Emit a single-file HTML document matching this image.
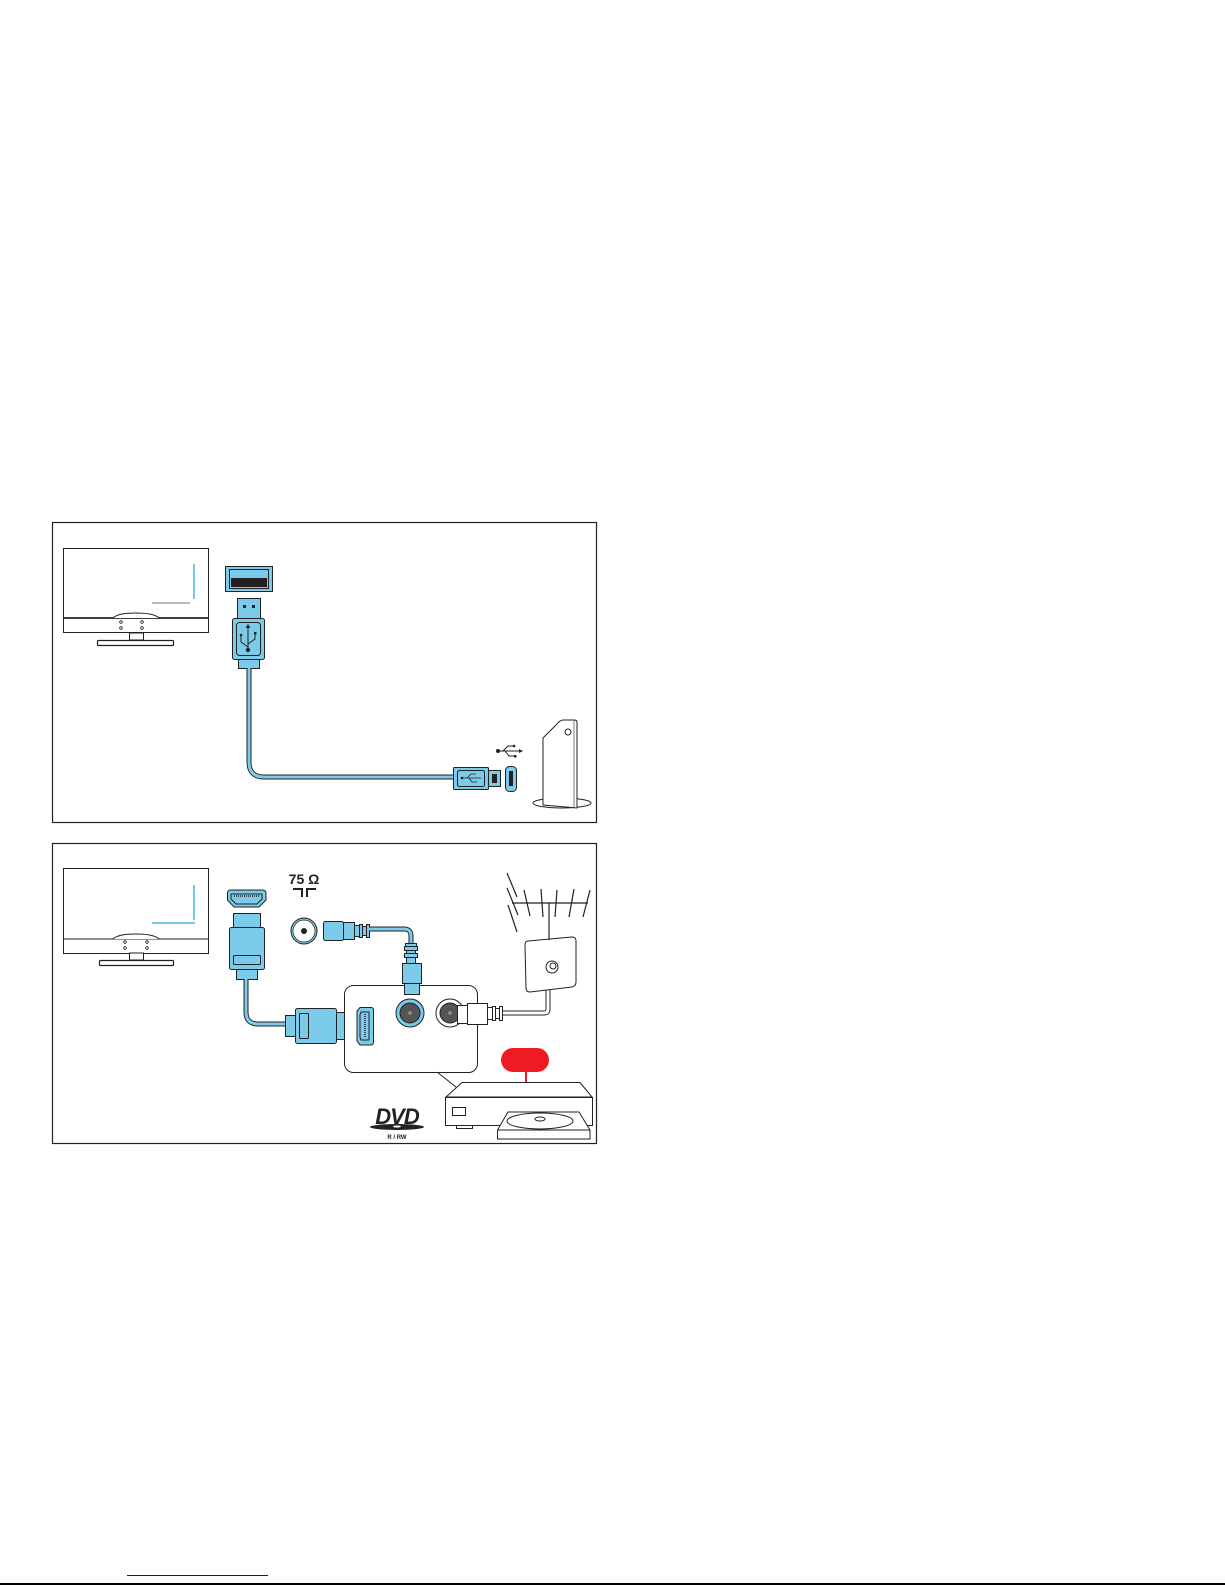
<!DOCTYPE html>
<html><head><meta charset="utf-8"><style>
html,body{margin:0;padding:0;background:#fff;}
svg{display:block;}
</style></head><body>
<svg width="1225" height="1585" viewBox="0 0 1225 1585" xmlns="http://www.w3.org/2000/svg" font-family="Liberation Sans, sans-serif">
<!-- ===== TOP PANEL ===== -->
<rect x="52.5" y="522.5" width="544" height="300" fill="#fff" stroke="#222" stroke-width="1.2"/>
<!-- TV -->
<rect x="63.5" y="548.5" width="145" height="84" fill="#fff" stroke="#222" stroke-width="1"/>
<line x1="63" y1="618" x2="209" y2="618" stroke="#222" stroke-width="1.8"/>
<path d="M113 618 Q118 613 136 613 Q154 613 159 618" fill="#fff" stroke="#222" stroke-width="1"/>
<g fill="#fff" stroke="#222" stroke-width="0.8"><circle cx="121" cy="622" r="1.3"/><circle cx="142" cy="622" r="1.3"/><circle cx="121" cy="628" r="1.3"/><circle cx="142" cy="628" r="1.3"/></g>
<rect x="129.5" y="633" width="14" height="7" fill="#fff" stroke="#222"/>
<rect x="97.5" y="640.5" width="76" height="5" rx="1" fill="#fff" stroke="#222" stroke-width="1.2"/>
<line x1="194" y1="564" x2="194" y2="599" stroke="#5fc4ea" stroke-width="1.8"/>
<rect x="152" y="602" width="38" height="2" fill="#bbb"/>
<!-- USB port -->
<rect x="225.5" y="566.5" width="47" height="25" fill="#7ccbea" stroke="#222"/>
<rect x="229.5" y="569.5" width="39" height="19" fill="none" stroke="#222"/>
<rect x="231" y="578" width="36" height="9" fill="#231f20"/>
<!-- USB plug -->
<rect x="237.5" y="598.5" width="23" height="20" fill="#7ccbea" stroke="#222"/>
<rect x="243" y="605" width="3" height="3" fill="#222"/><rect x="252" y="605" width="3" height="3" fill="#222"/>
<rect x="232.5" y="618.5" width="32" height="41" rx="2" fill="#7ccbea" stroke="#222"/>
<rect x="236.5" y="622.5" width="24" height="33" rx="3" fill="none" stroke="#222"/>
<g stroke="#222" stroke-width="1" fill="none"><line x1="248" y1="626" x2="248" y2="650"/><path d="M241 636 L241 642 L248 647"/><path d="M255 634 L255 639 L248 644"/></g>
<circle cx="248" cy="650" r="2.2" fill="#222"/><path d="M245.5 628 L248 624 L250.5 628Z" fill="#222"/><circle cx="241" cy="635" r="1.3" fill="#222"/><rect x="254" y="632" width="2.5" height="2.5" fill="#222"/>
<rect x="238.5" y="659.5" width="21" height="9" fill="#7ccbea" stroke="#222"/>
<!-- cable -->
<path d="M249 668 L249 762 Q249 777 264 777 L454 777" fill="none" stroke="#222" stroke-width="5"/>
<path d="M249 668 L249 762 Q249 777 264 777 L454 777" fill="none" stroke="#7ccbea" stroke-width="3"/>
<rect x="453.5" y="767.5" width="35" height="22" rx="1" fill="#7ccbea" stroke="#222"/>
<rect x="457.5" y="770.5" width="27" height="16" rx="2" fill="none" stroke="#222"/>
<g stroke="#222" stroke-width="0.8" fill="none"><line x1="462" y1="778" x2="481" y2="778"/><path d="M467 778 L471 774 L476 774"/><path d="M469 778 L472 782 L477 782"/></g>
<circle cx="462" cy="778" r="1.3" fill="#222"/>
<rect x="488.5" y="770.5" width="12" height="16" fill="#7ccbea" stroke="#222"/>
<rect x="492" y="774" width="5" height="9" fill="#222"/>
<rect x="505.5" y="766.5" width="11" height="25" rx="4" fill="#7ccbea" stroke="#222"/>
<rect x="509" y="771" width="4" height="15" fill="#222"/>
<!-- usb symbol -->
<g stroke="#222" stroke-width="1" fill="none"><line x1="498" y1="751" x2="520" y2="751"/><path d="M503 751 L508 746 L513 746"/><path d="M505 751 L509 756 L514 756"/></g>
<circle cx="498" cy="751" r="2" fill="#222"/><path d="M519 749 L523 751 L519 753Z" fill="#222"/><circle cx="514" cy="746" r="1.3" fill="#222"/><rect x="514" y="755" width="2.5" height="2.5" fill="#222"/>
<!-- device -->
<ellipse cx="562" cy="803" rx="29" ry="5" fill="#fff" stroke="#222"/>
<path d="M543 738 L543 805 L577 808 L577 722 Q577 720 574 720 L563 720 Q560 720 556 725 Z" fill="#fff" stroke="#222"/>
<line x1="574" y1="720" x2="574" y2="808" stroke="#222" stroke-width="0.6"/>
<circle cx="568" cy="732" r="3" fill="#fff" stroke="#222"/>

<!-- ===== BOTTOM PANEL ===== -->
<rect x="52.5" y="843.5" width="544" height="300" fill="#fff" stroke="#222" stroke-width="1.2"/>
<rect x="63.5" y="868.5" width="145" height="85" fill="#fff" stroke="#222" stroke-width="1"/>
<line x1="63" y1="939" x2="209" y2="939" stroke="#222" stroke-width="1"/>
<path d="M113 939 Q118 934 136 934 Q154 934 159 939" fill="#fff" stroke="#222" stroke-width="1"/>
<g fill="#fff" stroke="#222" stroke-width="0.8"><circle cx="125" cy="942" r="1.3"/><circle cx="147" cy="942" r="1.3"/><circle cx="125" cy="948" r="1.3"/><circle cx="147" cy="948" r="1.3"/></g>
<rect x="129.5" y="953" width="14" height="7" fill="#fff" stroke="#222"/>
<rect x="99.5" y="960.5" width="74" height="5" rx="1" fill="#fff" stroke="#222" stroke-width="1.2"/>
<line x1="194" y1="885" x2="194" y2="920" stroke="#5fc4ea" stroke-width="1.8"/>
<line x1="152" y1="923" x2="195" y2="923" stroke="#5fc4ea" stroke-width="1.8"/>
<!-- HDMI port -->
<path d="M227.5 893 Q227.5 890 231 890 L262 890 Q266 890 266 893 L266 900 L259 907 L234 907 L227.5 900 Z" fill="#7ccbea" stroke="#222"/>
<path d="M231 894 L262 894 L262 899 L257 904 L236 904 L231 899Z" fill="none" stroke="#222"/>
<line x1="234" y1="896" x2="259" y2="896" stroke="#222" stroke-width="1.5" stroke-dasharray="1 1"/>
<!-- HDMI plug vertical -->
<rect x="233.5" y="913.5" width="27" height="14" fill="#7ccbea" stroke="#222"/>
<rect x="229.5" y="927.5" width="35" height="42" rx="2" fill="#7ccbea" stroke="#222"/>
<rect x="233.5" y="955.5" width="27" height="9" rx="1" fill="none" stroke="#222"/>
<rect x="236.5" y="969.5" width="21" height="10" fill="#7ccbea" stroke="#222"/>
<path d="M246 979 L246 1012 Q246 1024 258 1024 L286 1024" fill="none" stroke="#222" stroke-width="5"/>
<path d="M246 979 L246 1012 Q246 1024 258 1024 L286 1024" fill="none" stroke="#7ccbea" stroke-width="3"/>
<!-- HDMI plug horizontal -->
<rect x="285.5" y="1015.5" width="10" height="21" fill="#7ccbea" stroke="#222"/>
<rect x="295.5" y="1008.5" width="41" height="35" rx="2" fill="#7ccbea" stroke="#222"/>
<rect x="299.5" y="1013.5" width="9" height="25" rx="1" fill="none" stroke="#222"/>
<rect x="336.5" y="1012.5" width="9" height="27" fill="#7ccbea" stroke="#222"/>
<!-- connection panel -->
<rect x="344.5" y="985.5" width="133" height="87" rx="9" fill="#fff" stroke="#222"/>
<path d="M360 1007.5 L371 1007.5 Q373.5 1007.5 373.5 1010 L373.5 1042 Q373.5 1045 371 1045 L360 1045 L357 1041 L357 1011 Z" fill="#7ccbea" stroke="#222"/>
<path d="M361 1012 L369 1012 L369 1040 L361 1040 L360 1037 L360 1015Z" fill="none" stroke="#222"/>
<line x1="365" y1="1014" x2="365" y2="1038" stroke="#222" stroke-width="1.5" stroke-dasharray="1 1"/>
<circle cx="410" cy="1013" r="14" fill="#7ccbea" stroke="#222"/>
<circle cx="410" cy="1013" r="10" fill="#555" stroke="#222"/>
<circle cx="410" cy="1013" r="2" fill="#888"/>
<circle cx="450" cy="1013" r="14" fill="#fff" stroke="#222"/>
<circle cx="450" cy="1013" r="10" fill="#555" stroke="#222"/>
<circle cx="450" cy="1013" r="2" fill="#888"/>
<!-- gray coax plug -->
<rect x="457.5" y="1005.5" width="10" height="18" fill="#fff" stroke="#222"/>
<rect x="467.5" y="1003.5" width="20" height="21" fill="#fff" stroke="#222"/>
<g fill="#fff" stroke="#222"><rect x="487.5" y="1007.5" width="5" height="12"/><rect x="492.5" y="1006.5" width="3" height="14"/><rect x="495.5" y="1008.5" width="4" height="10"/><rect x="499.5" y="1006.5" width="3" height="14"/></g>
<path d="M503 1013 L544 1013 Q548 1013 548 1009 L548 986" fill="none" stroke="#222" stroke-width="5"/>
<path d="M503 1013 L544 1013 Q548 1013 548 1009 L548 986" fill="none" stroke="#fff" stroke-width="3"/>
<!-- wall plate -->
<path d="M528 941 L572 937 Q576 937 576 941 L576 982 Q576 986 572 987 L530 992 Q526 992 526 988 L525 945 Q525 941 528 941Z" fill="#fff" stroke="#222"/>
<circle cx="552" cy="967" r="6" fill="#fff" stroke="#222"/>
<circle cx="553" cy="966" r="3" fill="#fff" stroke="#222"/>
<!-- antenna -->
<g stroke="#222" stroke-width="1.2">
<line x1="512" y1="903" x2="588" y2="903"/>
<line x1="549" y1="903" x2="549" y2="940"/>
<line x1="507" y1="873" x2="517" y2="897"/>
<line x1="507" y1="888" x2="518" y2="915"/>
<line x1="508" y1="905" x2="517" y2="932"/>
<line x1="524" y1="890" x2="530" y2="916"/>
<line x1="541" y1="889" x2="543" y2="917"/>
<line x1="557" y1="890" x2="555" y2="917"/>
<line x1="574" y1="889" x2="569" y2="917"/>
<line x1="590" y1="890" x2="583" y2="917"/>
</g>
<!-- 75 ohm -->
<text x="304" y="884" font-size="14" font-weight="bold" text-anchor="middle" fill="#222">75 Ω</text>
<path d="M293 889 L302 889 L302 897 M316 889 L307 889 L307 897" fill="none" stroke="#222" stroke-width="2"/>
<circle cx="304" cy="931" r="13" fill="#7ccbea" stroke="#222"/>
<circle cx="304" cy="931" r="11" fill="#fff" stroke="#222" stroke-width="0.7"/>
<circle cx="304" cy="931" r="3" fill="#222"/>
<!-- coax plug blue -->
<rect x="323.5" y="921.5" width="20" height="19" rx="2" fill="#7ccbea" stroke="#222"/>
<rect x="343.5" y="922.5" width="11" height="17" fill="#7ccbea" stroke="#222"/>
<g fill="#7ccbea" stroke="#222"><rect x="354.5" y="925.5" width="5" height="11"/><rect x="359.5" y="924.5" width="3" height="13"/><rect x="362.5" y="926.5" width="4" height="9"/><rect x="366.5" y="924.5" width="3" height="13"/></g>
<path d="M369 929 L404 929 Q411 929 411 936 L411 944" fill="none" stroke="#222" stroke-width="5"/>
<path d="M369 929 L404 929 Q411 929 411 936 L411 944" fill="none" stroke="#7ccbea" stroke-width="3"/>
<g fill="#7ccbea" stroke="#222"><rect x="405.5" y="943.5" width="11" height="3"/><rect x="404.5" y="946.5" width="13" height="4"/><rect x="406.5" y="950.5" width="9" height="3"/><rect x="404.5" y="953.5" width="13" height="4"/><rect x="406.5" y="957.5" width="9" height="6"/></g>
<rect x="402.5" y="963.5" width="19" height="20" fill="#7ccbea" stroke="#222"/>
<rect x="404.5" y="983.5" width="15" height="11" fill="#7ccbea" stroke="#222"/>
<!-- recorder -->
<line x1="437" y1="1072" x2="456" y2="1087" stroke="#222"/>
<rect x="501" y="1048" width="48" height="24" rx="12" fill="#ed1c24"/>
<line x1="526" y1="1072" x2="526" y2="1083" stroke="#ed1c24" stroke-width="2"/>
<path d="M446 1097 L462 1082.5 L580 1082.5 L592 1097 Z" fill="#fff" stroke="#222"/>
<rect x="445.5" y="1097.5" width="147" height="28" fill="#fff" stroke="#222"/>
<rect x="452.5" y="1107.5" width="13" height="8" fill="#fff" stroke="#222"/>
<rect x="456.5" y="1125.5" width="16" height="3" fill="#fff" stroke="#222"/>
<path d="M497.5 1139 L497.5 1130 L508 1112 L579 1112 L590 1130 L590 1139 Z" fill="#fff" stroke="#222"/>
<line x1="497.5" y1="1130" x2="590" y2="1130" stroke="#222"/>
<ellipse cx="540" cy="1121" rx="33" ry="8" fill="#fff" stroke="#222"/>
<ellipse cx="540" cy="1119" rx="5" ry="2" fill="#fff" stroke="#222"/>
<!-- DVD logo -->
<text x="397" y="1124" font-size="22" font-weight="bold" font-style="italic" text-anchor="middle" fill="#222" letter-spacing="-1">DVD</text>
<ellipse cx="397" cy="1127" rx="27" ry="3" fill="#222"/>
<ellipse cx="397" cy="1126.5" rx="4" ry="1" fill="#fff"/>
<text x="397" y="1139" font-size="6" font-weight="bold" text-anchor="middle" fill="#222">R / RW</text>

<!-- footer -->
<line x1="127" y1="1575.5" x2="268" y2="1575.5" stroke="#00f" stroke-width="1"/>
<line x1="0" y1="1584" x2="1225" y2="1584" stroke="#000" stroke-width="2"/>
</svg>
</body></html>
